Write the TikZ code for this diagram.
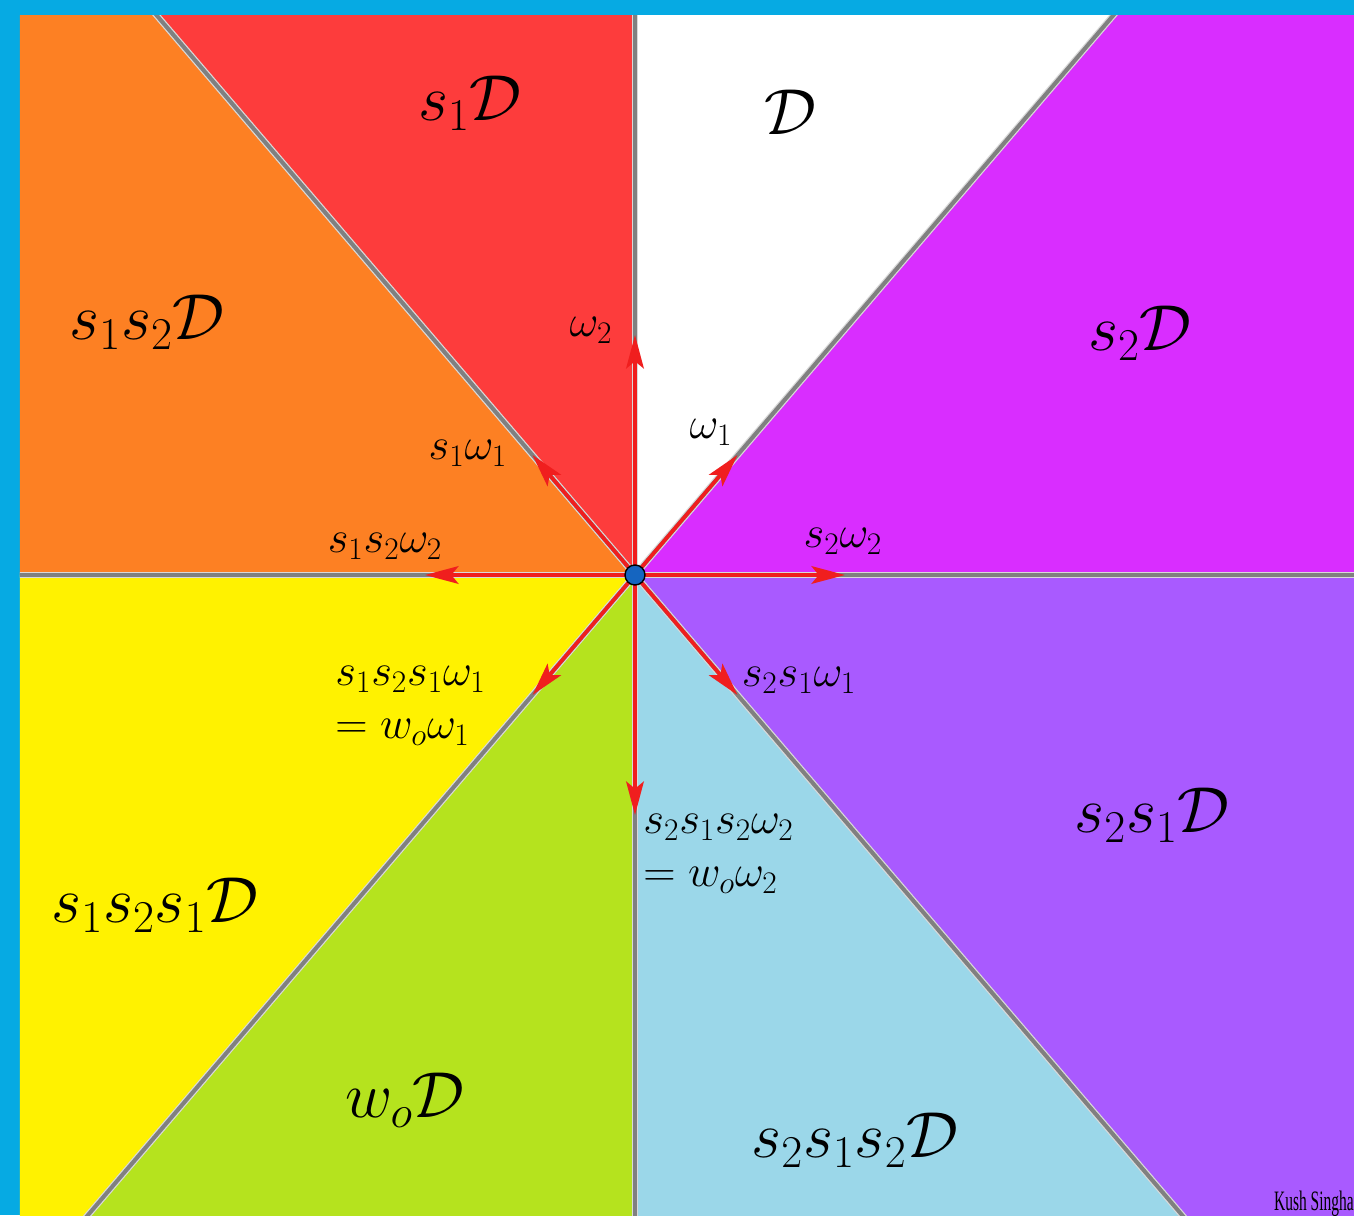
\RequirePackage{fix-cm}
\documentclass[tikz,border=0pt]{standalone}
\usepackage{fontspec}
\newfontfamily\signfont{Liberation Serif}
\usetikzlibrary{arrows.meta}

\definecolor{frameblue}{RGB}{6,170,227}
\definecolor{redD}{RGB}{253,60,60}
\definecolor{orangeD}{RGB}{253,128,35}
\definecolor{yellowD}{RGB}{255,242,0}
\definecolor{greenD}{RGB}{181,227,30}
\definecolor{cyanD}{RGB}{155,215,233}
\definecolor{purpleD}{RGB}{169,90,255}
\definecolor{magentaD}{RGB}{217,45,255}
\definecolor{arrowred}{RGB}{240,30,30}
\definecolor{dotblue}{RGB}{21,101,192}

\tikzset{
  wall/.style={draw=black!15, double=black!50, double distance=2.3pt, line width=0.7pt},
  weight/.style={draw=arrowred, line width=2.1pt, -{Stealth[length=19pt,width=10pt,inset=4pt]}},
  chamber/.style={inner sep=0pt, font=\fontsize{37}{44}\selectfont},
  wlabel/.style={inner sep=0pt, align=left, font=\fontsize{25.5}{30}\selectfont},
}

\begin{document}
\begin{tikzpicture}
                \useasboundingbox (-12.7,-12.8) rectangle (14.38,11.5);
                \fill[frameblue] (-12.7,-12.8) rectangle (14.38,11.5);
                \coordinate (O) at (0,0);
                % ends of the walls
                \coordinate (n) at (0,15);
                \coordinate (ne) at (12.82,15);
                \coordinate (e) at (15,0);
                \coordinate (se) at (12.82,-15);
                \coordinate (s) at (0,-15);
                \coordinate (sw) at (-12.82,-15);
                \coordinate (w) at (-15,0);
                \coordinate (nw) at (-12.82,15);
                \begin{scope}
                \clip (-12.3,-12.8) rectangle (14.38,11.18);
                \fill[white] (O) -- (n) -- (ne) -- cycle;
                \fill[magentaD] (O) -- (ne) -- (15,15) -- (e) -- cycle;
                \fill[purpleD] (O) -- (e) -- (15,-15) -- (se) -- cycle;
                \fill[cyanD] (O) -- (se) -- (s) -- cycle;
                \fill[greenD] (O) -- (s) -- (sw) -- cycle;
                \fill[yellowD] (O) -- (sw) -- (-15,-15) -- (w) -- cycle;
                \fill[orangeD] (O) -- (w) -- (-15,15) -- (nw) -- cycle;
                \fill[redD] (O) -- (nw) -- (n) -- cycle;
                \draw[wall] (O) -- (n);
                \draw[wall] (O) -- (ne);
                \draw[wall] (O) -- (e);
                \draw[wall] (O) -- (se);
                \draw[wall] (O) -- (s);
                \draw[wall] (O) -- (sw);
                \draw[wall] (O) -- (w);
                \draw[wall] (O) -- (nw);
                \end{scope}
                % weights
                \coordinate (w1) at (2.05,2.4);
                \coordinate (s1w1) at (-2.05,2.4);
                \coordinate (w2) at (0,4.8);
                \coordinate (s2w2) at (4.2,0);
                \coordinate (s1s2w2) at (-4.2,0);
                \coordinate (s2s1w1) at (2.05,-2.4);
                \coordinate (w0w1) at (-2.05,-2.4);
                \coordinate (w0w2) at (0,-4.8);
                \draw[weight] (O) -- (w1);
                \draw[weight] (O) -- (s1w1);
                \draw[weight] (O) -- (w2);
                \draw[weight] (O) -- (s2w2);
                \draw[weight] (O) -- (s1s2w2);
                \draw[weight] (O) -- (s2s1w1);
                \draw[weight] (O) -- (w0w1);
                \draw[weight] (O) -- (w0w2);
                \node[circle, fill=dotblue, draw=black, line width=0.8pt, minimum size=0.4cm, inner sep=0pt] (dot) at (O) {};
                % chambers
                \node[chamber] (D) at (3.1,9.26) {$\mathcal{D}$};
                \node[chamber] (s1D) at (-3.3,9.44) {$s_1\mathcal{D}$};
                \node[chamber] (s1s2D) at (-9.76,5.06) {$s_1s_2\mathcal{D}$};
                \node[chamber] (s2D) at (10.1,4.84) {$s_2\mathcal{D}$};
                \node[chamber] (s2s1D) at (10.34,-4.8) {$s_2s_1\mathcal{D}$};
                \node[chamber] (s1s2s1D) at (-9.6,-6.6) {$s_1s_2s_1\mathcal{D}$};
                \node[chamber] (w0D) at (-4.6,-10.5) {$w_o\mathcal{D}$};
                \node[chamber] (s2s1s2D) at (4.4,-11.3) {$s_2s_1s_2\mathcal{D}$};
                % weight labels
                \node[wlabel] (lw2) at (-0.88,4.9) {$\omega_2$};
                \node[wlabel] (lw1) at (1.52,2.86) {$\omega_1$};
                \node[wlabel] (ls1w1) at (-3.34,2.44) {$s_1\omega_1$};
                \node[wlabel] (ls1s2w2) at (-5.0,0.58) {$s_1s_2\omega_2$};
                \node[wlabel] (ls2w2) at (4.16,0.68) {$s_2\omega_2$};
                \node[wlabel] (ls2s1w1) at (3.28,-2.1) {$s_2s_1\omega_1$};
                \node[wlabel, anchor=west] (lw0w1) at (-6.0,-2.62) {$s_1s_2s_1\omega_1$\\$=w_o\omega_1$};
                \node[wlabel, anchor=west] (lw0w2) at (0.16,-5.58) {$s_2s_1s_2\omega_2$\\$=w_o\omega_2$};
                \node[inner sep=0pt, anchor=base east, font=\signfont\fontsize{16}{16}\selectfont] (sign) at (14.38,-12.7) {\scalebox{0.55}[1]{Kush Singha}};
            \end{tikzpicture}
\end{document}
